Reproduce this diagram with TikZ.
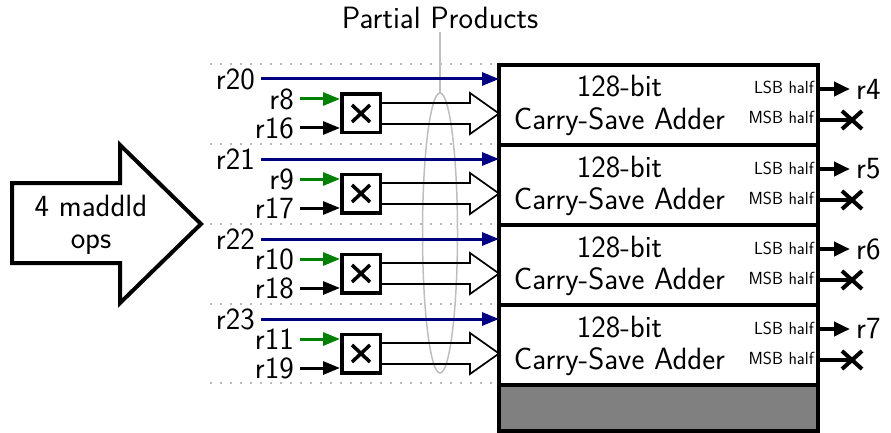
\documentclass[tikz,border=0pt]{standalone}
\usetikzlibrary{arrows.meta,calc}
\definecolor{navyb}{RGB}{0,0,128}
\definecolor{greenb}{RGB}{0,128,0}
\definecolor{padgray}{RGB}{128,128,128}
\definecolor{ellgray}{RGB}{190,190,190}
\definecolor{dotgray}{RGB}{185,185,185}
\begin{document}
\begin{tikzpicture}[x=1pt,y=-1pt,font=\fontsize{30.8}{32}\selectfont\sffamily,
  adder/.style={draw,line width=4pt,minimum width=319pt,minimum height=80pt,inner sep=0pt,outer sep=0pt,anchor=north west},
  mult/.style={draw,line width=3.5pt,fill=white,minimum size=38.5pt,inner sep=0pt},
  rlbl/.style={anchor=east,inner sep=0pt},
  small/.style={font=\fontsize{17.5}{20}\selectfont\sffamily,anchor=base east,inner sep=0pt},
  bluearrow/.style={navyb,line width=3pt,-{Triangle[length=17pt,width=13pt]}},
  greenarrow/.style={greenb,line width=3pt,-{Triangle[length=17pt,width=13pt]}},
  blackarrow/.style={black,line width=3pt,-{Triangle[length=17pt,width=13pt]}},
  outarrow/.style={black,line width=4pt,-{Triangle[length=16pt,width=14pt]}},
  hollow/.style={black,line width=1.7pt,line join=miter},
  dotline/.style={dotgray,line width=2pt,dash pattern=on 2pt off 8pt},
  cross/.style={line width=4pt}]
\useasboundingbox (0,0) rectangle (891,433);

% dotted separators
\foreach \yy [count=\k] in {64,144,224,304,383}{
  \coordinate (dl\k) at (210,\yy);
  \coordinate (dr\k) at (494,\yy);
  \draw[dotline] (dl\k) -- (dr\k);
}

% partial products ellipse and title
\draw[ellgray,line width=1.5pt] (440,233) ellipse [x radius=17.5pt,y radius=140pt];
\coordinate (elltop) at (440,93);
\node (pp) at (440,18) {Partial Products};
\draw[ellgray,line width=1.5pt] (pp.south) -- (elltop);

% big input arrow
\draw[line width=4pt,line join=miter] (12,183) -- (120,183) -- (120,145) -- (201,224) -- (120,303) -- (120,263) -- (12,263) -- cycle;
\node[align=center] (ops) at (91,225) {4 maddld\\ops};

% rows
\foreach \i/\a/\b/\c/\o in {0/20/8/16/4,1/21/9/17/5,2/22/10/18/6,3/23/11/19/7}{
  \pgfmathsetmacro\y{65+80*\i}
  \node[adder] (add\i) at (499,\y) {};
  \node[anchor=base] (ta\i) at (619.5,{\y+32}) {128-bit};
  \node[anchor=base] (tb\i) at (619.5,{\y+64}) {Carry-Save Adder};
  \node[small] (lsb\i) at (814,{\y+29}) {LSB half};
  \node[small] (msb\i) at (814,{\y+59}) {MSB half};
  \coordinate (lo\i) at (818,{\y+24});
  \coordinate (mo\i) at (818,{\y+55});
  \node[anchor=west,inner sep=0pt] (out\i) at (856,{\y+24}) {r\o};
  \draw[outarrow] (lo\i) -- ($(out\i.west)+(-6,0)$);
  \coordinate (x\i) at (852,{\y+55});
  \draw[cross] (mo\i) -- (x\i);
  \draw[cross] ($(x\i)+(-10,-9)$) -- ($(x\i)+(10,9)$);
  \draw[cross] ($(x\i)+(-10,9)$) -- ($(x\i)+(10,-9)$);
  % inputs
  \node[rlbl] (b\i) at (255,{\y+14}) {r\a};
  \node[rlbl] (g\i) at (294,{\y+34}) {r\b};
  \node[rlbl] (k\i) at (294,{\y+63}) {r\c};
  \node[mult] (m\i) at (361,{\y+48.5}) {};
  \draw[cross,line width=3.5pt] ($(m\i.center)+(-9,-8.5)$) -- ($(m\i.center)+(9,8.5)$);
  \draw[cross,line width=3.5pt] ($(m\i.center)+(-9,8.5)$) -- ($(m\i.center)+(9,-8.5)$);
  \draw[bluearrow] ($(b\i.east)+(6,0)$) -- (add\i.west |- b\i.east);
  \draw[greenarrow] ($(g\i.east)+(6,0)$) -- (m\i.west |- g\i.east);
  \draw[blackarrow] ($(k\i.east)+(6,0)$) -- (m\i.west |- k\i.east);
  % hollow arrow of partial products
  \draw[hollow] ($(m\i.east)+(0,-10.5)$) -- (470,{\y+38}) -- (470,{\y+28}) -- (add\i.west |- m\i.east) -- (470,{\y+69}) -- (470,{\y+59}) -- ($(m\i.east)+(0,10.5)$);
}

% bottom grey block
\node[draw,fill=padgray,line width=4pt,minimum width=319pt,minimum height=46pt,inner sep=0pt,outer sep=0pt,anchor=north west] (pad) at (499,385) {};
\end{tikzpicture}
\end{document}
